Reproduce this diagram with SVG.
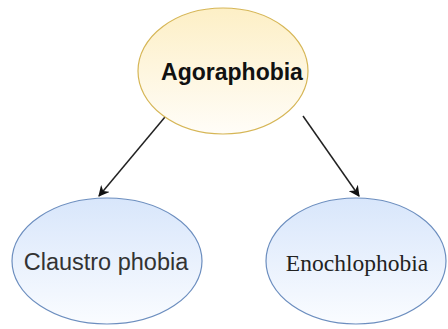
<svg xmlns="http://www.w3.org/2000/svg" width="448" height="329" viewBox="0 0 448 329">
<defs>
<linearGradient id="gy" x1="0" y1="0" x2="0" y2="1"><stop offset="0" stop-color="#fdefc6"/><stop offset="1" stop-color="#fffdf8"/></linearGradient>
<linearGradient id="gb" x1="0" y1="0" x2="0" y2="1"><stop offset="0" stop-color="#d8e6fb"/><stop offset="1" stop-color="#fafcff"/></linearGradient>
<marker id="arr" viewBox="0 0 10 10" refX="9" refY="5" markerWidth="11" markerHeight="11" markerUnits="userSpaceOnUse" orient="auto"><path d="M0,0 L10,5 L0,10 L3,5 Z" fill="#111"/></marker>
</defs>
<style>
.edge{stroke:#222;stroke-width:1.5;fill:none;marker-end:url(#arr)}
.sans{font-family:"Liberation Sans",Arial,sans-serif}
.serif{font-family:"Liberation Serif","Times New Roman",serif}
</style>
<g id="connectors">
<line class="edge" x1="165" y1="117" x2="99" y2="196"/>
<line class="edge" x1="303" y1="116" x2="359" y2="196"/>
</g>
<g id="agoraphobia">
<ellipse cx="223" cy="71" rx="85" ry="63" fill="url(#gy)" stroke="#d6b656" stroke-width="1.2"/>
<text x="232" y="80" text-anchor="middle" class="sans" font-weight="bold" font-size="23" fill="#111">Agoraphobia</text>
</g>
<g id="claustrophobia">
<ellipse cx="107" cy="261" rx="95" ry="63" fill="url(#gb)" stroke="#6c8ebf" stroke-width="1.2"/>
<text x="106" y="270" text-anchor="middle" class="sans" font-size="23.5" fill="#333">Claustro phobia</text>
</g>
<g id="enochlophobia">
<ellipse cx="356" cy="261" rx="90" ry="63" fill="url(#gb)" stroke="#6c8ebf" stroke-width="1.2"/>
<text x="357" y="271" text-anchor="middle" class="serif" font-size="23.5" fill="#222">Enochlophobia</text>
</g>
</svg>
